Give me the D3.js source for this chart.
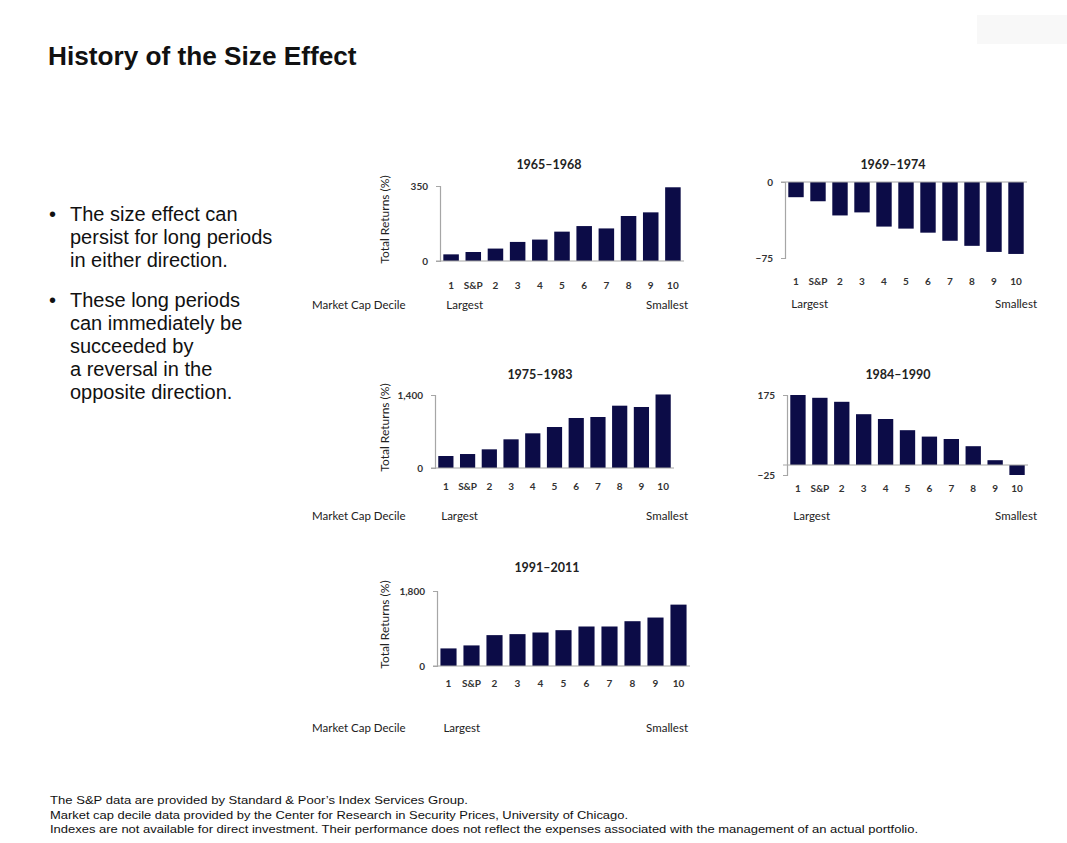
<!DOCTYPE html>
<html>
<head>
<meta charset="utf-8">
<script src="https://cdn.jsdelivr.net/npm/d3@7"></script>
<style>
  html, body { margin: 0; padding: 0; background: #fff; }
  svg { display: block; }
</style>
</head>
<body>
<svg id="chart" width="1067" height="843"></svg>
<script>
// Market-cap deciles, largest to smallest, with the S&P 500 placed after decile 1
const deciles = ["1", "S&P", "2", "3", "4", "5", "6", "7", "8", "9", "10"];

// Total returns (%) for each period
const returns1965to1968 = [31, 42, 58, 89, 100, 137, 163, 152, 210, 227, 344];
const returns1969to1974 = [-15, -19, -33, -30, -44, -46, -50, -58, -63, -69, -71];
const returns1975to1983 = [230, 268, 358, 550, 665, 786, 959, 978, 1195, 1170, 1410];
const returns1984to1990 = [175, 168, 158, 127, 115, 87, 71, 65, 47, 12, -25];
const returns1991to2011 = [422, 494, 741, 765, 804, 860, 948, 948, 1075, 1163, 1473];

// Axis tick values for each period
const ticks1965to1968 = [0, 350];
const ticks1969to1974 = [-75, 0];
const ticks1975to1983 = [0, 1400];
const ticks1984to1990 = [-25, 175];
const ticks1991to2011 = [0, 1800];

const periodTitles = ["1965–1968", "1969–1974", "1975–1983", "1984–1990", "1991–2011"];

const bulletPoints = [
  ["The size effect can", "persist for long periods", "in either direction."],
  ["These long periods", "can immediately be", "succeeded by", "a reversal in the", "opposite direction."]
];

const footnotes = [
  "The S&P data are provided by Standard & Poor’s Index Services Group.",
  "Market cap decile data provided by the Center for Research in Security Prices, University of Chicago.",
  "Indexes are not available for direct investment. Their performance does not reflect the expenses associated with the management of an actual portfolio."
];

const BAR = "#0c0c47";
const AXIS = "#a6a6a6";
const SMALL_FONT = "Lato, 'Open Sans', sans-serif";
const BODY_FONT = "'Liberation Sans', Arial, sans-serif";

const svg = d3.select("#chart");

// faint patch in the upper right corner
svg.append("rect").attr("x", 977).attr("y", 15).attr("width", 90).attr("height", 29)
  .attr("fill", "#f8f8f8");

// Heading
svg.append("text")
  .attr("x", 48).attr("y", 65)
  .attr("font-family", BODY_FONT).attr("font-weight", "bold")
  .attr("font-size", 26.2).attr("fill", "#111")
  .text("History of the Size Effect");

// Bullets
const bulletTops = [221, 307];
bulletPoints.forEach((lines, i) => {
  svg.append("text")
    .attr("x", 49).attr("y", bulletTops[i])
    .attr("font-family", BODY_FONT).attr("font-size", 20).attr("fill", "#111")
    .text("•");
  lines.forEach((line, j) => {
    svg.append("text")
      .attr("x", 70).attr("y", bulletTops[i] + j * 23)
      .attr("font-family", BODY_FONT).attr("font-size", 20).attr("fill", "#111")
      .text(line);
  });
});

// Footnotes
const footY = [804, 818.5, 833];
const footW = [418, 578, 868];
footnotes.forEach((t, i) => {
  svg.append("text")
    .attr("x", 50).attr("y", footY[i])
    .attr("font-family", BODY_FONT).attr("font-size", 11).attr("fill", "#111")
    .attr("textLength", footW[i]).attr("lengthAdjust", "spacingAndGlyphs")
    .text(t);
});

// Panel layout
const panels = [
  { title: periodTitles[0], values: returns1965to1968, ticks: ticks1965to1968,
    x0: 440, x1: 684, yMinPx: 261, yMaxPx: 186, titleY: 169, catY: 289, capY: 309,
    yLabel: true, rightEdge: 688, titleX: 549 },
  { title: periodTitles[1], values: returns1969to1974, ticks: ticks1969to1974,
    x0: 785, x1: 1027, yMinPx: 258, yMaxPx: 182, titleY: 169, catY: 285, capY: 308,
    yLabel: false, rightEdge: 1037, titleX: 893 },
  { title: periodTitles[2], values: returns1975to1983, ticks: ticks1975to1983,
    x0: 435, x1: 674, yMinPx: 468, yMaxPx: 395, titleY: 379, catY: 490, capY: 520,
    yLabel: true, rightEdge: 688, titleX: 540 },
  { title: periodTitles[3], values: returns1984to1990, ticks: ticks1984to1990,
    x0: 787, x1: 1028, yMinPx: 475, yMaxPx: 395, titleY: 379, catY: 492, capY: 520,
    yLabel: false, rightEdge: 1037, titleX: 898 },
  { title: periodTitles[4], values: returns1991to2011, ticks: ticks1991to2011,
    x0: 437, x1: 690, yMinPx: 666, yMaxPx: 591, titleY: 572, catY: 687, capY: 732,
    yLabel: true, rightEdge: 688, titleX: 547 }
];

const fmt = d3.format(",");

panels.forEach(p => {
  const g = svg.append("g");
  const x = d3.scaleBand().domain(deciles).range([p.x0, p.x1])
    .paddingInner(0.3).paddingOuter(0.15);
  const y = d3.scaleLinear().domain(d3.extent(p.ticks)).range([p.yMinPx, p.yMaxPx]);

  // title
  g.append("text")
    .attr("x", p.titleX).attr("y", p.titleY)
    .attr("text-anchor", "middle")
    .attr("font-family", SMALL_FONT).attr("font-weight", "bold")
    .attr("font-size", 12.5).attr("fill", "#222")
    .text(p.title);

  // bars
  g.selectAll("rect.bar").data(p.values).join("rect")
    .attr("class", "bar")
    .attr("x", (d, i) => x(deciles[i]))
    .attr("width", x.bandwidth())
    .attr("y", d => Math.min(y(d), y(0)))
    .attr("height", d => Math.abs(y(d) - y(0)))
    .attr("fill", BAR);

  // value axis
  const yAxis = d3.axisLeft(y).tickValues(p.ticks).tickFormat(fmt)
    .tickSize(4).tickPadding(8);
  const ax = g.append("g").attr("transform", `translate(${p.x0},0)`).call(yAxis);
  ax.select(".domain").attr("stroke", AXIS).attr("stroke-width", 1.2);
  ax.selectAll(".tick line").attr("stroke", AXIS);
  ax.selectAll(".tick text")
    .attr("font-family", SMALL_FONT).attr("font-size", 10).attr("font-weight", "bold")
    .attr("fill", "#333");

  // zero baseline
  g.append("line")
    .attr("x1", p.x0 - 4).attr("x2", p.x1)
    .attr("y1", y(0)).attr("y2", y(0))
    .attr("stroke", AXIS).attr("stroke-width", 1.2);

  // decile labels
  g.selectAll("text.cat").data(deciles).join("text")
    .attr("class", "cat")
    .attr("x", d => x(d) + x.bandwidth() / 2)
    .attr("y", p.catY)
    .attr("text-anchor", "middle")
    .attr("font-family", SMALL_FONT).attr("font-size", 10).attr("font-weight", "bold")
    .attr("fill", "#333")
    .text(d => d);

  // size ends
  g.append("text")
    .attr("x", x(deciles[0]) + 3).attr("y", p.capY)
    .attr("font-family", SMALL_FONT).attr("font-size", 11.5).attr("fill", "#222")
    .text("Largest");
  g.append("text")
    .attr("x", p.rightEdge).attr("y", p.capY)
    .attr("text-anchor", "end")
    .attr("font-family", SMALL_FONT).attr("font-size", 11.5).attr("fill", "#222")
    .text("Smallest");

  if (p.yLabel) {
    g.append("text")
      .attr("transform", `translate(389,${(p.yMinPx + p.yMaxPx) / 2 - 4}) rotate(-90)`)
      .attr("text-anchor", "middle")
      .attr("font-family", SMALL_FONT).attr("font-size", 12).attr("fill", "#222")
      .text("Total Returns (%)");
    g.append("text")
      .attr("x", 312).attr("y", p.capY)
      .attr("font-family", SMALL_FONT).attr("font-size", 11.5).attr("fill", "#222")
      .text("Market Cap Decile");
  }
});
</script>
</body>
</html>
